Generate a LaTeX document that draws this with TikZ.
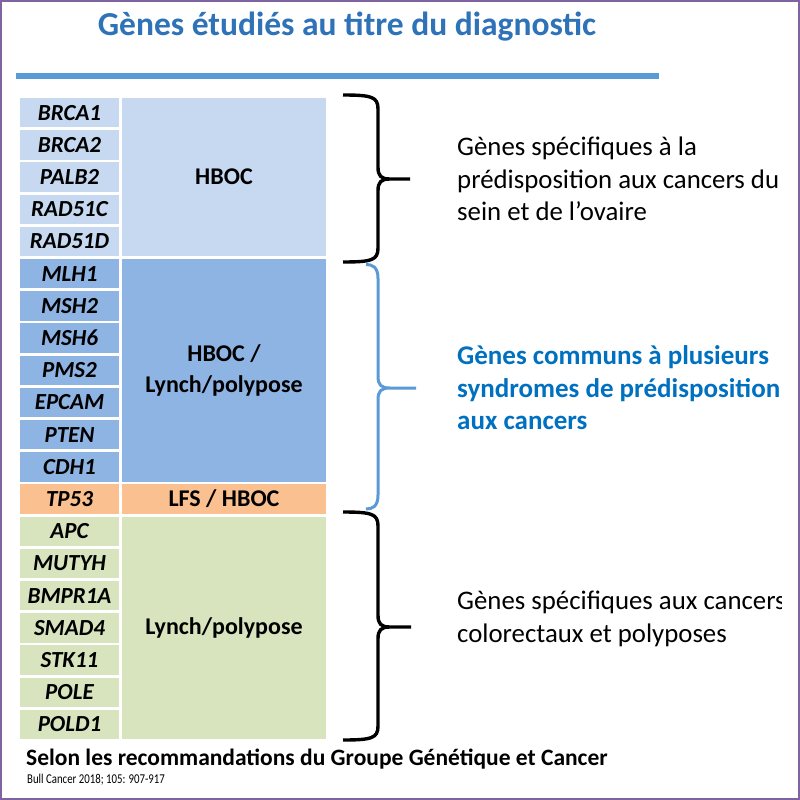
\documentclass[tikz,border=0pt]{standalone}
\usepackage{fontspec}
\setmainfont{Carlito}
\definecolor{titleblue}{HTML}{2E72B8}
\definecolor{rulecol}{HTML}{5B9BD5}
\definecolor{braceblue}{HTML}{5B9BD5}
\definecolor{textblue}{HTML}{0070C0}
\definecolor{frame}{HTML}{8064A2}
\definecolor{cHB}{HTML}{C6D9F1}
\definecolor{cLH}{HTML}{8EB4E3}
\definecolor{cTP}{HTML}{FAC090}
\definecolor{cLy}{HTML}{D7E4BD}
\newcommand\mybrace[6]{%
 \draw[#1] (#5,#2) .. controls (372,#2) and (378,#2+2) .. (378,#2+14) -- (378,#3-12)
   .. controls (378,#3-3) and (381,#3) .. (390,#3) -- (#6,#3)
   (#6,#3) -- (390,#3) .. controls (381,#3) and (378,#3+3) .. (378,#3+12)
   -- (378,#4-14) .. controls (378,#4-2) and (372,#4) .. (#5,#4);}
\begin{document}
\begin{tikzpicture}[x=1pt,y=-1pt,
  genecell/.style={minimum width=99pt,minimum height=29.4pt,inner sep=0pt,outer sep=0pt,
    font=\fontsize{23}{26}\selectfont\bfseries\itshape},
  groupcell/.style={minimum width=204pt,inner sep=0pt,outer sep=0pt,align=center,
    font=\fontsize{24}{31}\selectfont\bfseries},
  sidetext/.style={anchor=west,align=left,inner sep=0pt,font=\fontsize{26.8}{32.5}\selectfont},
  blackbrace/.style={line width=3.4pt,black},
  bluebrace/.style={line width=3pt,braceblue}]
\useasboundingbox (0,0) rectangle (800,800);
\fill[white] (0,0) rectangle (800,800);
\draw[frame,line width=2pt] (1,1) rectangle (799,799);

\node[font=\fontsize{33.5}{38}\selectfont\bfseries,text=titleblue] (title) at (347,27) {Gènes étudiés au titre du diagnostic};
\draw[rulecol,line width=6pt] (16,76) -- (659,76);

\foreach \g/\c [count=\i from 0] in {BRCA1/cHB,BRCA2/cHB,PALB2/cHB,RAD51C/cHB,RAD51D/cHB,
  MLH1/cLH,MSH2/cLH,MSH6/cLH,PMS2/cLH,EPCAM/cLH,PTEN/cLH,CDH1/cLH,TP53/cTP,
  APC/cLy,MUTYH/cLy,BMPR1A/cLy,SMAD4/cLy,STK11/cLy,POLE/cLy,POLD1/cLy}
  \node[genecell,fill=\c] (g\i) at (69.5,{96.5+32.2*\i+16.1}) {\g};

\node[groupcell,fill=cHB,minimum height=158.2pt] (hboc) at (224,177) {HBOC};
\node[groupcell,fill=cLH,minimum height=222.6pt] (lynchhboc) at (224,370.2) {HBOC /\\Lynch/polypose};
\node[groupcell,fill=cTP,minimum height=29.4pt] (lfs) at (224,499) {LFS / HBOC};
\node[groupcell,fill=cLy,minimum height=222.6pt] (lynch) at (224,627.8) {Lynch/polypose};

\mybrace{blackbrace}{95}{179}{262}{343}{410}
\mybrace{bluebrace}{264.5}{388}{509}{366}{416}
\mybrace{blackbrace}{512}{627}{740}{343}{411}

\node[sidetext] (t1) at (457,179) {Gènes spécifiques à la\\prédisposition aux cancers du\\sein et de l’ovaire};
\node[sidetext,font=\fontsize{27}{32.5}\selectfont\bfseries,text=textblue] (t2) at (457,388) {Gènes communs à plusieurs\\syndromes de prédisposition\\aux cancers};
\begin{scope}
\clip (0,0) rectangle (781,800);
\node[sidetext] (t3) at (457,619) {Gènes spécifiques aux cancers\\colorectaux et polyposes};
\end{scope}

\node[anchor=base west,inner sep=0pt,font=\fontsize{23.5}{26}\selectfont\bfseries] (src) at (26,765) {Selon les recommandations du Groupe Génétique et Cancer};
\node[anchor=base west,inner sep=0pt,font=\fontsize{13.5}{15}\selectfont] (ref) at (27,783) {\scalebox{0.8}[1]{Bull Cancer 2018; 105: 907-917}};
\end{tikzpicture}
\end{document}
